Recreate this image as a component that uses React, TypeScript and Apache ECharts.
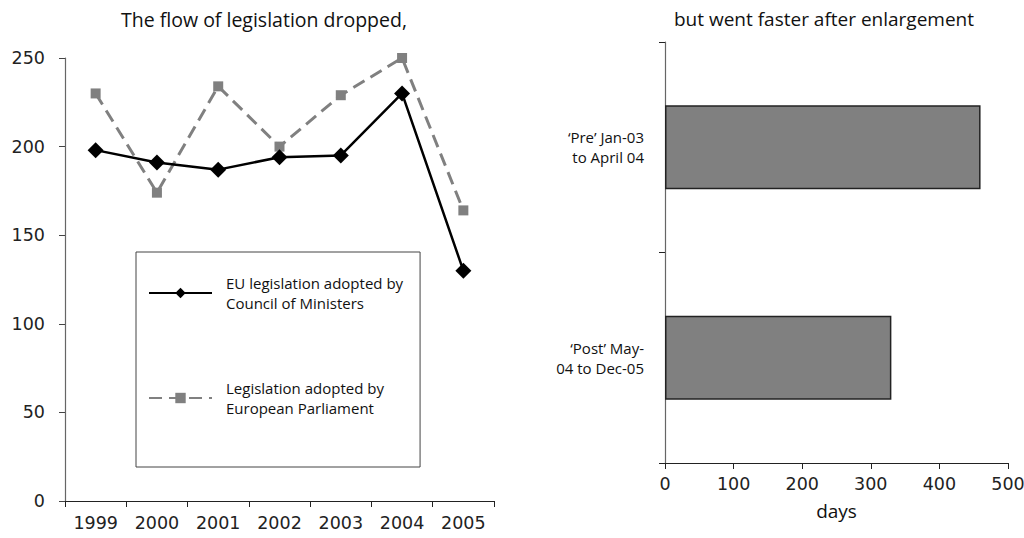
import React, { useEffect, useRef } from "react";
import * as echarts from "echarts";

const years = ["1999", "2000", "2001", "2002", "2003", "2004", "2005"];
const councilName = "EU legislation adopted by\nCouncil of Ministers";
const parliamentName = "Legislation adopted by\nEuropean Parliament";
const councilValues = [198, 191, 187, 194, 195, 230, 130];
const parliamentValues = [230, 174, 234, 200, 229, 250, 164];

const periods = ["‘Pre’ Jan-03\nto April 04", "‘Post’ May-\n04 to Dec-05"];
const periodDays = [460, 330];

const leftTitle = "The flow of legislation dropped,";
const rightTitle = "but went faster after enlargement";
const FONT = "Open Sans";
const NUM_FONT = "DejaVu Sans";

export default function App() {
  const ref = useRef<HTMLDivElement>(null);
  useEffect(() => {
    if (!ref.current) return;
    const chart = echarts.init(ref.current, null, { renderer: "svg" });
    chart.setOption({
      animation: false,
      backgroundColor: "#ffffff",
      textStyle: { fontFamily: FONT, color: "#111" },
      title: [
        {
          text: leftTitle,
          left: 259,
          top: 4,
          textAlign: "center",
          textStyle: { fontFamily: FONT, fontSize: 19.5, fontWeight: "normal", color: "#111" },
        },
        {
          text: rightTitle,
          left: 819,
          top: 4,
          textAlign: "center",
          textStyle: { fontFamily: FONT, fontSize: 19, fontWeight: "normal", color: "#111" },
        },
      ],
      legend: {
        data: [councilName, parliamentName],
        orient: "vertical",
        left: 136,
        top: 252,
        padding: [21, 17, 49, 12],
        itemGap: 65,
        itemWidth: 63,
        itemHeight: 13,
        borderColor: "#444",
        borderWidth: 1,
        textStyle: { fontFamily: FONT, fontSize: 15, lineHeight: 20, color: "#111", padding: [0, 0, 0, 9] },
      },
      grid: [
        { left: 65, right: 530, top: 58, bottom: 37, outerBoundsMode: "none", containLabel: false },
        { left: 665, right: 16, top: 42, bottom: 75, outerBoundsMode: "none", containLabel: false },
      ],
      xAxis: [
        {
          gridIndex: 0,
          type: "category",
          data: years,
          boundaryGap: true,
          axisLine: { lineStyle: { color: "#222", width: 1.2 } },
          axisTick: { show: true, inside: false, length: 6, lineStyle: { color: "#222" } },
          axisLabel: { fontFamily: NUM_FONT, fontSize: 17.5, color: "#222", margin: 13 },
          splitLine: { show: false },
        },
        {
          gridIndex: 1,
          type: "value",
          min: 0,
          max: 500,
          interval: 100,
          name: "days",
          nameLocation: "middle",
          nameGap: 38,
          nameTextStyle: { fontFamily: FONT, fontSize: 19, color: "#111" },
          axisLine: { show: true, lineStyle: { color: "#222", width: 1.2 } },
          axisTick: { show: true, length: 6, lineStyle: { color: "#222" } },
          axisLabel: { fontFamily: NUM_FONT, fontSize: 17.5, color: "#222", margin: 12 },
          splitLine: { show: false },
        },
      ],
      yAxis: [
        {
          gridIndex: 0,
          type: "value",
          min: 0,
          max: 250,
          interval: 50,
          axisLine: { show: true, lineStyle: { color: "#666", width: 1.2 } },
          axisTick: { show: true, length: 6, lineStyle: { color: "#444" } },
          axisLabel: { fontFamily: NUM_FONT, fontSize: 17.5, color: "#222", margin: 20 },
          splitLine: { show: false },
        },
        {
          gridIndex: 1,
          type: "category",
          data: periods,
          inverse: true,
          boundaryGap: true,
          axisLine: { show: true, lineStyle: { color: "#666", width: 1.2 } },
          axisTick: { show: true, length: 6, lineStyle: { color: "#222" } },
          axisLabel: { fontFamily: FONT, fontSize: 15, lineHeight: 20, color: "#111", margin: 21, align: "right" },
        },
      ],
      series: [
        {
          name: parliamentName,
          type: "line",
          xAxisIndex: 0,
          yAxisIndex: 0,
          data: parliamentValues,
          symbol: "rect",
          symbolSize: 10,
          itemStyle: { color: "#808080" },
          lineStyle: { color: "#808080", width: 3, type: [13, 7] },
          z: 2,
        },
        {
          name: councilName,
          type: "line",
          xAxisIndex: 0,
          yAxisIndex: 0,
          data: councilValues,
          symbol: "diamond",
          symbolSize: 16,
          itemStyle: { color: "#000" },
          lineStyle: { color: "#000", width: 2.5 },
          z: 3,
        },
        {
          type: "bar",
          xAxisIndex: 1,
          yAxisIndex: 1,
          data: periodDays,
          barWidth: "40%",
          itemStyle: { color: "#808080", borderColor: "#222", borderWidth: 1.5 },
        },
      ],
    });
    return () => chart.dispose();
  }, []);
  return <div ref={ref} style={{ width: 1024, height: 538, position: "absolute", left: 0, top: 0 }} />;
}
